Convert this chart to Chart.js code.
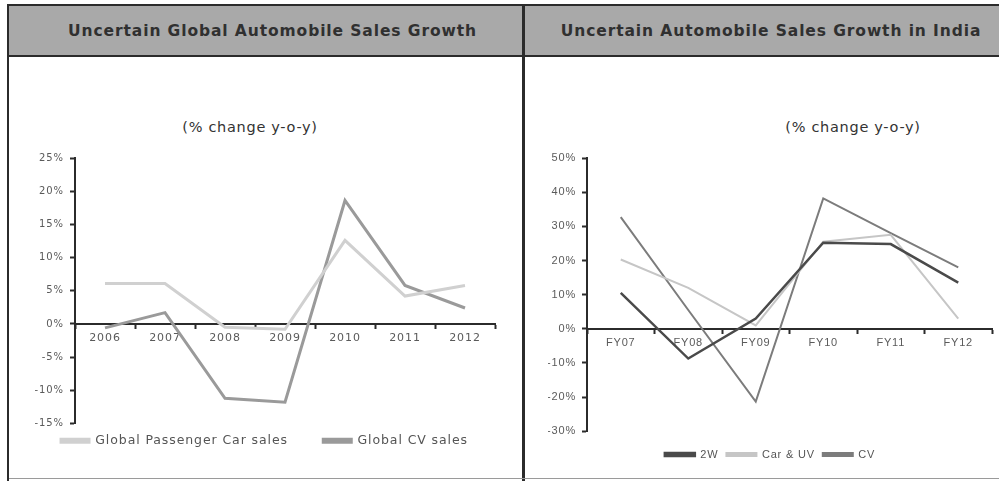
<!DOCTYPE html>
<html>
<head>
<meta charset="utf-8">
<script src="https://cdn.jsdelivr.net/npm/chart.js@4/dist/chart.umd.min.js"></script>
<style>
    body { margin: 0; background: #fff; font-family: "DejaVu Sans", sans-serif; }
    #page { position: relative; width: 999px; height: 481px; overflow: hidden; }
    .band { position: absolute; top: 6px; height: 49px; background: #a9a9a9; }
    .band span { display: block; text-align: center; line-height: 51px; font-weight: bold; font-size: 15.5px; color: #303030; letter-spacing: 0.9px; }
    .rule { position: absolute; background: #2b2b2b; }
    .sub { position: absolute; top: 119px; font-size: 14.5px; letter-spacing: 0.7px; color: #333; white-space: nowrap; transform: translateX(-50%); }
    canvas { position: absolute; }
</style>
</head>
<body>
<div id="page">
    <div class="band" style="left:9px; width:513px;"><span style="padding-left:14px;">Uncertain Global Automobile Sales Growth</span></div>
    <div class="band" style="left:525px; width:474px;"><span style="padding-left:18px;">Uncertain Automobile Sales Growth in India</span></div>
    <div class="rule" style="left:7px; top:4px; width:992px; height:2px;"></div>
    <div class="rule" style="left:7px; top:55px; width:992px; height:2px;"></div>
    <div class="rule" style="left:7px; top:4px; width:2px; height:477px;"></div>
    <div class="rule" style="left:522px; top:4px; width:3px; height:477px;"></div>
    <div class="rule" style="left:9px; top:478px; width:990px; height:1px; background:#9a9a9a;"></div>

    <div class="sub" style="left:250px;">(% change y-o-y)</div>
    <div class="sub" style="left:853px;">(% change y-o-y)</div>

    <div style="position:absolute; left:10px; top:58px; width:512px; height:420px;"><canvas id="graficoGlobal"></canvas></div>
    <div style="position:absolute; left:526px; top:58px; width:473px; height:420px;"><canvas id="graficoIndia"></canvas></div>
</div>

<script>
// Global sales growth, % y-o-y
const years = ['2006', '2007', '2008', '2009', '2010', '2011', '2012'];
const passengerCar = [6.1, 6.1, -0.5, -0.8, 12.6, 4.2, 5.8];
const cvGlobal = [-0.6, 1.7, -11.2, -11.8, 18.6, 5.8, 2.4];
const globalTicks = [25, 20, 15, 10, 5, 0, -5, -10, -15];

// India sales growth, % y-o-y
const fiscalYears = ['FY07', 'FY08', 'FY09', 'FY10', 'FY11', 'FY12'];
const twoWheeler = [10.5, -8.7, 3.0, 25.2, 24.8, 13.5];
const carUv = [20.3, 12.0, 1.0, 25.5, 27.5, 3.0];
const cvIndia = [32.7, 5.5, -21.3, 38.2, 28.0, 18.0];
const indiaTicks = [50, 40, 30, 20, 10, 0, -10, -20, -30];

function serie(label, data, color, width) {
    return {
        label, data,
        borderColor: color, backgroundColor: color,
        borderWidth: width, pointRadius: 0, tension: 0
    };
}

// letter spacing for all canvas text (reset on every resize)
function espaciado(px) {
    const set = chart => { chart.ctx.letterSpacing = px + 'px'; };
    return { id: 'espaciado', beforeLayout: set, beforeDraw: set };
}

function opciones(cfg) {
    const min = Math.min(...cfg.ticks), max = Math.max(...cfg.ticks);
    const font = { family: cfg.family };
    return {
        responsive: true,
        maintainAspectRatio: false,
        animation: false,
        layout: { padding: cfg.pad },
        plugins: {
            tooltip: { enabled: false },
            legend: {
                position: 'bottom',
                title: { display: cfg.legendTop > 0, text: '', font: { size: 1 }, padding: { top: cfg.legendTop, bottom: 0 } },
                labels: {
                    color: '#555',
                    font: { ...font, size: cfg.legendSize },
                    boxWidth: cfg.legendBox, boxHeight: 3,
                    padding: cfg.legendPadding,
                    generateLabels: chart => {
                        const items = Chart.defaults.plugins.legend.labels.generateLabels(chart);
                        items.forEach((it, i) => { if (i < items.length - 1) it.text += cfg.legendGap; });
                        return items;
                    }
                }
            }
        },
        scales: {
            x: {
                position: { y: 0 },
                offset: true,
                grid: { offset: true, drawOnChartArea: false, tickLength: 4, tickColor: '#2b2b2b', tickWidth: 2 },
                border: { color: '#2b2b2b', width: 2 },
                ticks: { color: '#5a5a5a', font: { ...font, size: cfg.xSize }, padding: 4 }
            },
            y: {
                min, max,
                afterFit: s => { s.width = cfg.axisWidth; },
                afterBuildTicks: s => { s.ticks = cfg.ticks.map(v => ({ value: v })); },
                grid: { drawOnChartArea: false, tickLength: 5, tickColor: '#2b2b2b', tickWidth: 2 },
                border: { color: '#2b2b2b', width: 2 },
                ticks: { color: '#5a5a5a', font: { ...font, size: cfg.ySize }, padding: 6, callback: v => v + '%' }
            }
        }
    };
}

document.addEventListener('DOMContentLoaded', function () {
    new Chart(document.getElementById('graficoGlobal'), {
        type: 'line',
        data: {
            labels: years,
            datasets: [
                serie('Global Passenger Car sales', passengerCar, '#d0d0d0', 3),
                serie('Global CV sales', cvGlobal, '#9a9a9a', 3)
            ]
        },
        options: opciones({
            ticks: globalTicks, family: 'DejaVu Sans', axisWidth: 41,
            pad: { top: 100, right: 27, bottom: 21, left: 24 },
            legendSize: 12.5, legendBox: 28, legendPadding: 11, legendTop: 0, legendGap: '     ',
            xSize: 11, ySize: 10
        }),
        plugins: [espaciado(0.9)]
    });

    new Chart(document.getElementById('graficoIndia'), {
        type: 'line',
        data: {
            labels: fiscalYears,
            datasets: [
                serie('2W', twoWheeler, '#4a4a4a', 2.5),
                serie('Car & UV', carUv, '#c6c6c6', 2),
                serie('CV', cvIndia, '#7c7c7c', 2)
            ]
        },
        options: opciones({
            ticks: indiaTicks, family: 'Liberation Sans', axisWidth: 39,
            pad: { top: 100, right: 7, bottom: 8, left: 22 },
            legendSize: 11, legendBox: 30, legendPadding: 8, legendTop: 8.5, legendGap: '',
            xSize: 11, ySize: 11
        }),
        plugins: [espaciado(0.8)]
    });
});
</script>
</body>
</html>
